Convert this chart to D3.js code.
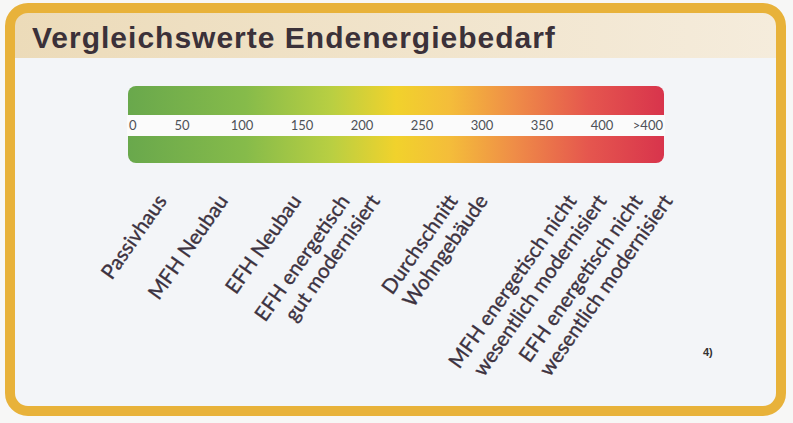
<!DOCTYPE html>
<html>
<head>
<meta charset="utf-8">
<script src="https://cdn.jsdelivr.net/npm/d3@7"></script>
<style>
body { margin: 0; background: #f7f7f6; }
svg { display: block; }
.title { font-family: "Liberation Sans", Arial, sans-serif; font-weight: bold; font-size: 30px; letter-spacing: 1px; fill: #3b3139; }
.tick { font-family: Lato, sans-serif; font-size: 13px; fill: #4d5157; }
.cat { font-family: Lato, sans-serif; font-size: 20.5px; fill: #3c3240; stroke: #3c3240; stroke-width: 0.35px; }
.note { font-family: "Liberation Sans", Arial, sans-serif; font-weight: bold; font-size: 11px; fill: #333; }
</style>
</head>
<body>
<svg width="793" height="423"></svg>
<script>
var tickValues = [0, 50, 100, 150, 200, 250, 300, 350, 400, 450];
var tickLabels = ["0", "50", "100", "150", "200", "250", "300", "350", "400", ">400"];

var categoryLines = [
  ["Passivhaus"],
  ["MFH Neubau"],
  ["EFH Neubau"],
  ["EFH energetisch", "gut modernisiert"],
  ["Durchschnitt", "Wohngebäude"],
  ["MFH energetisch nicht", "wesentlich modernisiert"],
  ["EFH energetisch nicht", "wesentlich modernisiert"]
];
var categoryValues = [38, 89, 150, 203, 293, 392, 447];

var svg = d3.select("svg");
var defs = svg.append("defs");

// scale colours along the bar
var bandStops = [
  [0, "#69a84c"], [0.22, "#86bb4a"], [0.38, "#b9cf42"], [0.5, "#f1d22c"],
  [0.6, "#f4bd3a"], [0.72, "#ef8d47"], [0.86, "#e5564e"], [1, "#d8344c"]
];
var grad = defs.append("linearGradient").attr("id", "scaleGrad")
  .attr("x1", "0%").attr("x2", "100%");
grad.selectAll("stop").data(bandStops).enter().append("stop")
  .attr("offset", d => d[0]).attr("stop-color", d => d[1]);

var head = defs.append("linearGradient").attr("id", "headGrad")
  .attr("x1", "0%").attr("x2", "100%");
head.append("stop").attr("offset", 0).attr("stop-color", "#ecdbb9");
head.append("stop").attr("offset", 1).attr("stop-color", "#f5ecdc");

// frame
svg.append("rect").attr("x", 10).attr("y", 8).attr("width", 771).attr("height", 403)
  .attr("rx", 18).attr("fill", "#f3f5f8");
svg.append("path")
  .attr("d", "M14,58 L14,30 Q14,12 32,12 L759,12 Q777,12 777,30 L777,58 Z")
  .attr("fill", "url(#headGrad)");
svg.append("rect").attr("x", 10).attr("y", 8).attr("width", 771).attr("height", 403)
  .attr("rx", 18).attr("fill", "none").attr("stroke", "#e8b23a").attr("stroke-width", 10);

svg.append("text").attr("class", "title").attr("x", 32).attr("y", 48)
  .text("Vergleichswerte Endenergiebedarf");

var x = d3.scaleLinear().domain([0, 450]).range([122, 662]);
var barLeft = 128, barRight = 664, barTop = 86, barBottom = 163;
var stripTop = 115, stripBottom = 136;

svg.append("rect").attr("x", barLeft).attr("y", barTop)
  .attr("width", barRight - barLeft).attr("height", barBottom - barTop)
  .attr("rx", 8).attr("fill", "url(#scaleGrad)");
svg.append("rect").attr("x", barLeft - 1).attr("y", stripTop)
  .attr("width", barRight - barLeft + 2).attr("height", stripBottom - stripTop)
  .attr("fill", "#fbfbfb");

svg.selectAll(".tick").data(tickValues).enter().append("text")
  .attr("class", "tick")
  .attr("x", (d, i) => i == 0 ? barLeft + 1 : (i == tickValues.length - 1 ? barRight - 1 : x(d)))
  .attr("y", 130)
  .attr("text-anchor", (d, i) => i == 0 ? "start" : (i == tickValues.length - 1 ? "end" : "middle"))
  .text((d, i) => tickLabels[i]);

// rotated category labels
var lineStep = 30, labelY = 201;
var cats = svg.selectAll(".catg").data(categoryLines).enter().append("g");
cats.each(function(lines, ci) {
  var g = d3.select(this);
  lines.forEach(function(t, li) {
    var ax = x(categoryValues[ci]) + (li - (lines.length - 1) / 2) * lineStep;
    g.append("text").attr("class", "cat")
      .attr("text-anchor", "end")
      .attr("transform", "translate(" + ax + "," + labelY + ") rotate(-55)")
      .text(t);
  });
});

svg.append("text").attr("class", "note").attr("x", 703).attr("y", 356).text("4)");
</script>
</body>
</html>
